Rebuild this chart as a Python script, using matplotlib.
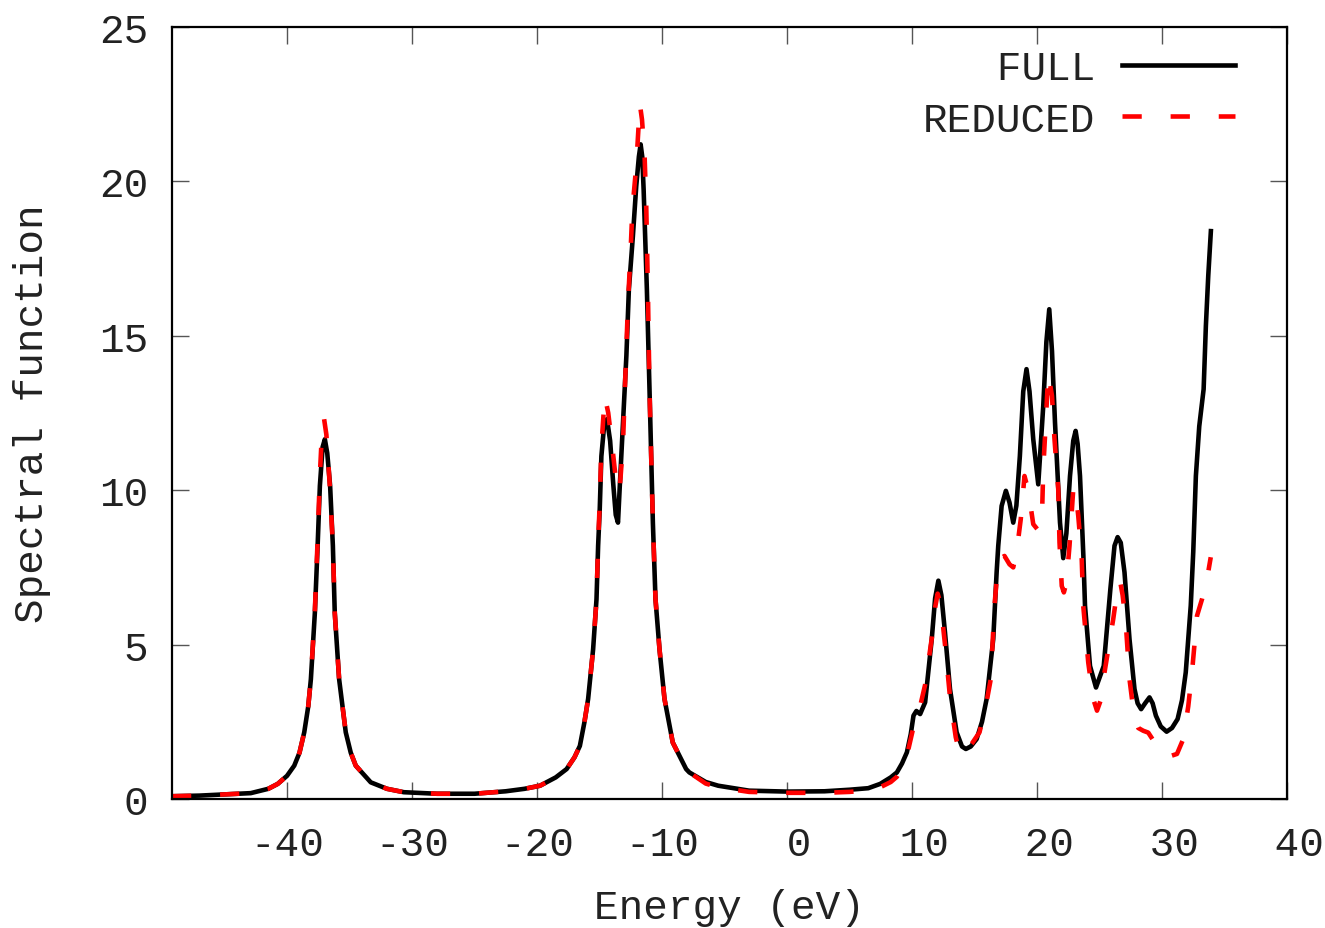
import matplotlib
matplotlib.use("Agg")
import matplotlib.pyplot as plt

# ---------------- data ----------------
energy_full = [
    -49.2, -47.0, -45.0, -42.9, -41.5, -40.74, -40.0, -39.42, -39.0, -38.62,
    -38.3, -38.09, -37.77, -37.55, -37.37, -37.15, -36.97, -36.78, -36.55, -36.33,
    -36.18, -35.83, -35.3, -34.9, -34.5, -33.3, -32.0, -30.65, -28.0, -25.0,
    -22.5, -21.0, -19.76, -18.5, -17.63, -17.0, -16.57, -16.2, -15.91, -15.51,
    -15.24, -15.11, -14.98, -14.85, -14.65, -14.40, -14.15, -13.9, -13.7, -13.52,
    -13.39, -13.12, -12.85, -12.65, -12.33, -12.06, -11.85, -11.71, -11.58, -11.47,
    -11.21, -11.0, -10.73, -10.52, -10.2, -9.94, -9.8, -9.14, -8.07, -7.81,
    -6.5, -5.5, -3.03, 0.0, 3.0, 5.0, 6.5, 7.46, 8.3, 8.79,
    9.2, 9.59, 9.9, 10.12, 10.35, 10.65, 11.05, 11.58, 11.85, 12.11,
    12.35, 12.64, 13.04, 13.57, 14.0, 14.31, 14.7, 15.17, 15.6, 15.97,
    16.5, 16.77, 16.9, 17.17, 17.51, 17.8, 18.1, 18.35, 18.63, 18.9,
    19.16, 19.4, 19.7, 20.1, 20.5, 20.75, 20.98, 21.2, 21.44, 21.84,
    22.1, 22.35, 22.64, 22.9, 23.09, 23.25, 23.44, 23.71, 23.84, 24.24,
    24.72, 25.34, 25.87, 26.2, 26.45, 26.7, 27.0, 27.4, 27.8, 28.05,
    28.33, 28.65, 29.0, 29.25, 29.51, 29.9, 30.37, 30.8, 31.25, 31.6,
    31.9, 32.3, 32.5, 32.71, 32.98, 33.33, 33.51, 33.7, 33.91,
]
spectral_full = [
    0.09, 0.11, 0.15, 0.19, 0.33, 0.49, 0.75, 1.08, 1.5, 2.16,
    3.0, 3.88, 6.04, 8.2, 10.14, 11.4, 11.65, 11.2, 10.14, 8.2,
    6.04, 3.88, 2.16, 1.5, 1.08, 0.54, 0.33, 0.22, 0.17, 0.17,
    0.25, 0.33, 0.43, 0.7, 0.97, 1.35, 1.72, 2.5, 3.24, 4.85,
    6.47, 8.2, 9.39, 11.1, 12.0, 12.3, 11.6, 10.2, 9.2, 8.95,
    10.03, 12.19, 14.35, 16.5, 18.22, 19.85, 20.8, 21.2, 20.8, 19.74,
    16.5, 13.27, 8.95, 6.47, 4.85, 3.78, 3.24, 1.83, 0.97, 0.86,
    0.55, 0.43, 0.27, 0.24, 0.25, 0.3, 0.35, 0.49, 0.7, 0.86,
    1.15, 1.51, 2.1, 2.7, 2.85, 2.75, 3.13, 5.18, 6.5, 7.07,
    6.6, 5.39, 3.56, 2.16, 1.7, 1.62, 1.7, 1.94, 2.5, 3.24,
    5.18, 7.34, 8.2, 9.49, 9.98, 9.6, 8.95, 9.5, 11.11, 13.2,
    13.92, 13.2, 11.65, 10.19, 12.73, 14.8, 15.86, 14.5, 12.19, 8.95,
    7.8, 8.6, 10.46, 11.6, 11.92, 11.5, 10.46, 7.87, 6.26, 4.31,
    3.61, 4.31, 6.8, 8.2, 8.48, 8.3, 7.34, 5.18, 3.56, 3.1,
    2.91, 3.1, 3.29, 3.1, 2.7, 2.35, 2.18, 2.3, 2.59, 3.2,
    4.1, 6.26, 8.0, 10.46, 12.07, 13.27, 15.32, 16.94, 18.39,
]

energy_reduced = [
    -49.2, -47.0, -45.0, -42.9, -41.5, -40.74, -40.0, -39.42, -39.0, -38.62,
    -38.3, -38.09, -37.77, -37.55, -37.37, -37.2, -37.03, -36.85, -36.6, -36.33,
    -36.18, -35.83, -35.3, -34.9, -34.5, -33.3, -32.0, -30.65, -28.0, -25.0,
    -22.5, -21.0, -19.76, -18.5, -17.63, -17.0, -16.57, -16.2, -15.91, -15.51,
    -15.24, -15.11, -14.98, -14.85, -14.58, -14.3, -14.1, -13.92, -13.6, -13.4,
    -13.12, -12.99, -12.72, -12.53, -12.37, -12.06, -11.9, -11.77, -11.6, -11.39,
    -11.26, -11.13, -11.0, -10.73, -10.52, -10.2, -9.94, -9.8, -9.14, -8.07,
    -7.81, -6.5, -5.5, -3.03, 0.0, 3.0, 5.0, 6.5, 7.46, 8.3,
    8.79, 9.2, 9.59, 10.1, 10.65, 11.05, 11.58, 11.85, 12.05, 12.3,
    12.64, 13.04, 13.5, 13.84, 14.2, 14.8, 15.4, 15.9, 16.3, 16.6,
    16.8, 17.1, 17.4, 17.8, 18.1, 18.4, 18.7, 19.0, 19.3, 19.7,
    20.1, 20.4, 20.5, 20.7, 20.9, 21.2, 21.4, 21.7, 21.8, 21.98,
    22.15, 22.35, 22.6, 22.9, 23.05, 23.3, 23.57, 23.7, 24.1, 24.5,
    24.8, 25.1, 25.4, 26.1, 26.4, 26.65, 26.85, 27.1, 27.4, 27.8,
    28.1, 28.5, 28.9, 29.3, 29.6, 30.1, 30.6, 31.2, 31.7, 32.1,
    32.4, 32.8, 33.2, 33.6, 33.9,
]
spectral_reduced = [
    0.09, 0.11, 0.15, 0.19, 0.33, 0.49, 0.75, 1.08, 1.5, 2.16,
    3.0, 3.9, 6.1, 8.4, 10.5, 11.9, 12.3, 11.8, 10.3, 8.2,
    6.04, 3.88, 2.16, 1.5, 1.08, 0.54, 0.33, 0.22, 0.17, 0.17,
    0.25, 0.33, 0.43, 0.7, 0.97, 1.35, 1.72, 2.5, 3.24, 4.85,
    6.47, 8.3, 9.6, 11.4, 13.05, 12.5, 11.8, 11.2, 10.0, 9.95,
    11.5, 13.05, 16.07, 17.58, 19.09, 20.5, 21.6, 22.5, 22.0, 20.8,
    19.2, 16.5, 13.27, 8.95, 6.47, 4.85, 3.78, 3.24, 1.83, 0.97,
    0.86, 0.5, 0.38, 0.23, 0.2, 0.2, 0.23, 0.28, 0.38, 0.55,
    0.72, 1.0, 1.4, 2.3, 3.0, 3.7, 5.2, 6.2, 6.65, 6.3,
    5.0, 3.3, 2.0, 1.46, 1.5, 1.8, 2.16, 3.0, 3.88, 6.26,
    7.23, 7.8, 7.87, 7.6, 7.5, 8.1, 9.06, 10.46, 10.0, 8.9,
    8.7, 9.17, 10.68, 12.19, 13.8, 13.05, 11.65, 10.03, 8.31, 6.9,
    6.69, 7.0, 8.2, 10.03, 10.1, 9.17, 7.87, 6.26, 4.42, 3.24,
    2.86, 3.2, 4.1, 5.83, 6.7, 7.05, 6.6, 5.71, 3.88, 2.59,
    2.3, 2.21, 2.15, 1.9, 1.72, 1.4, 1.38, 1.46, 1.94, 3.0,
    4.1, 5.93, 6.47, 7.12, 7.83,
]

x_ticks = [-40, -30, -20, -10, 0, 10, 20, 30, 40]
y_ticks = [0, 5, 10, 15, 20, 25]
x_ticklabels = ["-40", "-30", "-20", "-10", " 0", " 10", " 20", " 30", " 40"]
y_ticklabels = ["0", "5", "10", "15", "20", "25"]
series_labels = ["   FULL", "REDUCED"]

# ---------------- figure ----------------
FONT = "Liberation Mono"
FS = 29.5
TXT = "#222222"
plt.rcParams["font.family"] = [FONT, "DejaVu Sans Mono"]

fig = plt.figure(figsize=(13.25, 9.29), dpi=100)
ax = fig.add_axes([172 / 1325, 1 - 800 / 929, (1287 - 172) / 1325, (800 - 28) / 929])

ax.plot(energy_full, spectral_full, color="black", lw=3.3, solid_joinstyle="round",
        label=series_labels[0])
ax.plot(energy_reduced, spectral_reduced, color="#ff0000", lw=3.3,
        dashes=(4.2, 6.3), dash_capstyle="butt", label=series_labels[1])

ax.set_xlim(-49.2, 40)
ax.set_ylim(0, 25)
ax.set_xticks(x_ticks)
ax.set_xticklabels(x_ticklabels)
ax.set_yticks(y_ticks)
ax.set_yticklabels(y_ticklabels)

ax.tick_params(axis="both", which="both", direction="in", length=12, width=1.0,
               color="#555555", top=True, right=True, labelsize=FS, labelcolor=TXT)
ax.tick_params(axis="x", pad=19)
ax.tick_params(axis="y", pad=17)
for sp in ax.spines.values():
    sp.set_linewidth(1.6)
    sp.set_color("black")

ax.set_xlabel("Energy (eV)", fontsize=FS, color=TXT, labelpad=18)
ax.set_ylabel("Spectral function", fontsize=FS, color=TXT, labelpad=35)

leg = ax.legend(loc="upper right", frameon=False, markerfirst=False, fontsize=FS,
                handlelength=2.75, handletextpad=0.65, labelspacing=0.32,
                borderaxespad=0.0, bbox_to_anchor=(1 - 36 / 1115, 1 - 6 / 772))
for t in leg.get_texts():
    t.set_color(TXT)

fig.savefig("out.png", dpi=100)
